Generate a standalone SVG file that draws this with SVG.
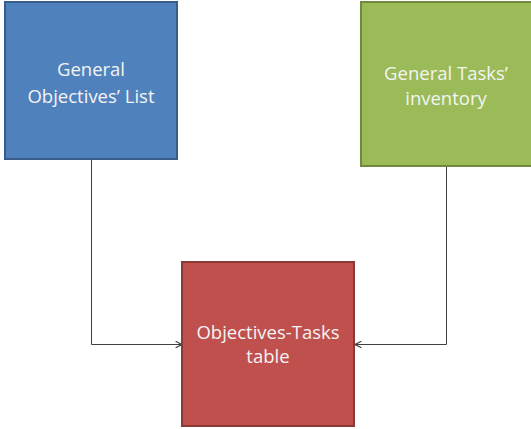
<svg xmlns="http://www.w3.org/2000/svg" width="531" height="429" viewBox="0 0 531 429">
  <defs>
    <marker id="arrow" viewBox="0 0 10 10" refX="9" refY="5" markerWidth="8" markerHeight="8" markerUnits="userSpaceOnUse" orient="auto">
      <path d="M1,1 L9,5 L1,9" fill="none" stroke="#404040" stroke-width="1.5"/>
    </marker>
  </defs>
  <style>
    .box { stroke-width: 2; }
    .label { font-family: "Open Sans", "Liberation Sans", sans-serif; font-size: 18.5px; fill: #f4f4f4; text-anchor: middle; }
    .conn { fill: none; stroke: #404040; stroke-width: 1; }
  </style>
  <rect width="531" height="429" fill="#ffffff"/>
  <g id="connectors">
    <polyline class="conn" points="91.5,159 91.5,344.5 182,344.5" marker-end="url(#arrow)"/>
    <polyline class="conn" points="446.5,166 446.5,344.5 355,344.5" marker-end="url(#arrow)"/>
  </g>
  <g id="objectives-list">
    <rect class="box" x="5" y="2" width="172" height="157" fill="#4f81bd" stroke="#385d8a"/>
    <text class="label" x="91" y="76">General</text>
    <text class="label" x="91" y="103">Objectives’ List</text>
  </g>
  <g id="tasks-inventory">
    <rect class="box" x="361" y="2" width="172" height="164" fill="#9bbb59" stroke="#71893f"/>
    <text class="label" x="446" y="80">General Tasks’</text>
    <text class="label" x="446" y="105">inventory</text>
  </g>
  <g id="objectives-tasks-table">
    <rect class="box" x="182" y="262" width="172" height="164" fill="#c0504d" stroke="#8c3836"/>
    <text class="label" x="268" y="339">Objectives-Tasks</text>
    <text class="label" x="268" y="363">table</text>
  </g>
</svg>
